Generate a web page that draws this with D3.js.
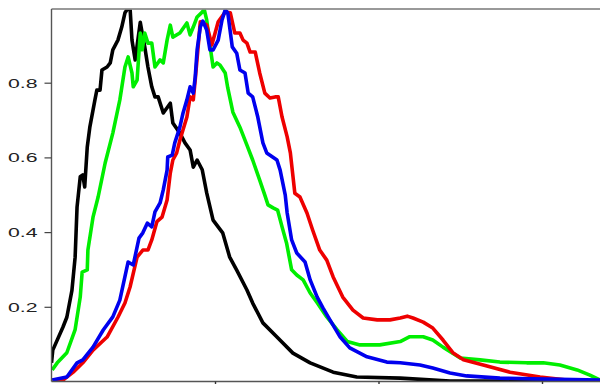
<!DOCTYPE html>
<html><head><meta charset="utf-8">
<script src="https://cdn.jsdelivr.net/npm/d3@7"></script>
<style>html,body{margin:0;padding:0;background:#fff;overflow:hidden}</style>
</head><body>
<svg id="chart" width="600" height="384"></svg>
<script>
// channel (x) and normalized count (y) for each histogram
const blackX = [0,2,18,24,32,37,40,45,49,52,56,60,68,71,76,79,87,92,96,104,110,115,120,123,126,131,139,142,146,151,157,162,167,175,186,190,201,209,217,222,228,236,243,253,268,279,290,306,315,331,353,378,405,441,478,546,624,859];
const blackY = [0.050,0.084,0.146,0.172,0.244,0.333,0.467,0.548,0.553,0.521,0.628,0.681,0.754,0.780,0.780,0.834,0.842,0.853,0.888,0.914,0.949,0.987,1.0,1.0,0.914,0.861,0.962,0.933,0.896,0.842,0.789,0.762,0.762,0.719,0.745,0.692,0.665,0.639,0.620,0.574,0.593,0.567,0.505,0.432,0.398,0.333,0.298,0.245,0.210,0.157,0.119,0.076,0.050,0.025,0.012,0.009,0.001,0.001];

const greenX = [1,9,24,37,45,48,56,57,65,73,84,96,107,115,120,126,128,134,139,142,146,151,157,162,170,175,181,186,190,201,212,217,222,228,236,239,243,248,253,259,264,272,276,284,295,306,315,326,334,339,347,354,361,368,376,384,394,405,416,431,447,463,483,514,546,561,582,597,613,640,671,702,744,770,796,823,843,859];
const greenY = [0.031,0.050,0.077,0.139,0.226,0.293,0.299,0.352,0.440,0.494,0.585,0.665,0.754,0.842,0.869,0.826,0.789,0.807,0.933,0.888,0.933,0.906,0.906,0.842,0.861,0.853,0.914,0.954,0.922,0.933,0.960,0.928,0.949,0.976,0.989,0.997,0.968,0.901,0.842,0.853,0.847,0.826,0.786,0.721,0.681,0.633,0.593,0.539,0.499,0.473,0.465,0.459,0.414,0.371,0.299,0.285,0.272,0.237,0.211,0.173,0.139,0.107,0.098,0.098,0.107,0.120,0.120,0.111,0.092,0.063,0.058,0.052,0.050,0.050,0.044,0.031,0.017,0.004];

const redX = [2,18,34,49,65,87,104,115,123,134,143,151,157,165,173,181,186,190,196,201,212,217,222,225,233,243,251,261,272,280,287,295,300,306,311,319,326,334,342,350,355,361,369,374,381,389,400,409,420,431,441,456,472,488,510,530,546,557,566,582,597,613,629,645,676,718,765,807,859];
const redY = [0.0,0.004,0.025,0.050,0.084,0.119,0.172,0.210,0.253,0.333,0.352,0.352,0.379,0.428,0.440,0.486,0.558,0.593,0.612,0.646,0.708,0.762,0.754,0.807,0.963,0.955,0.901,0.963,0.989,0.987,0.933,0.933,0.914,0.906,0.882,0.882,0.826,0.772,0.759,0.762,0.762,0.708,0.655,0.612,0.504,0.494,0.451,0.405,0.352,0.325,0.280,0.226,0.191,0.170,0.165,0.165,0.170,0.175,0.170,0.159,0.143,0.111,0.076,0.058,0.044,0.025,0.012,0.004,0.001];

const blueX = [1,24,40,49,65,81,96,107,120,128,137,143,150,157,162,170,175,181,182,189,193,201,206,212,217,222,225,228,233,237,243,248,253,261,267,272,276,283,290,295,303,308,315,323,331,337,353,358,366,369,376,384,397,405,416,425,436,452,467,494,525,546,577,597,624,650,702,754,859];
const blueY = [0.004,0.012,0.050,0.058,0.092,0.138,0.173,0.218,0.320,0.312,0.384,0.398,0.424,0.414,0.454,0.478,0.513,0.566,0.601,0.606,0.639,0.681,0.719,0.754,0.789,0.772,0.815,0.888,0.949,0.965,0.941,0.888,0.888,0.914,0.968,0.995,0.987,0.896,0.879,0.834,0.826,0.772,0.762,0.708,0.639,0.612,0.593,0.566,0.499,0.451,0.379,0.344,0.320,0.272,0.226,0.197,0.165,0.119,0.090,0.066,0.052,0.050,0.044,0.036,0.023,0.015,0.009,0.007,0.004];

const seriesColors = ["#000000", "#00ee00", "#ee0000", "#0000ee"];
const xTicks = [256, 512, 768];
const yTicks = [0.2, 0.4, 0.6, 0.8];

const svg = d3.select("#chart");
const mLeft = 51.5, mTop = 8, mBottom = 381.5;
const x = d3.scaleLinear().domain([0, 1024]).range([mLeft, mLeft + 1024 * 163.5 / 256]);
const y = d3.scaleLinear().domain([0, 1]).range([mBottom, mTop]);

svg.append("defs").append("clipPath").attr("id", "clip")
  .append("rect").attr("x", mLeft).attr("y", 9.5).attr("width", 600).attr("height", mBottom - 9.5);

const series = [
  {xs: blackX, ys: blackY, c: seriesColors[0]},
  {xs: greenX, ys: greenY, c: seriesColors[1]},
  {xs: redX, ys: redY, c: seriesColors[2]},
  {xs: blueX, ys: blueY, c: seriesColors[3]}
];
const line = d3.line().x(d => x(d[0])).y(d => y(d[1]));
const g = svg.append("g").attr("clip-path", "url(#clip)");
series.forEach(s => {
  g.append("path").datum(s.xs.map((v, i) => [v, s.ys[i]]))
    .attr("d", line).attr("fill", "none").attr("stroke", s.c)
    .attr("stroke-width", 3.6).attr("stroke-linejoin", "round");
});

// frame
svg.append("line").attr("x1", mLeft).attr("x2", 600).attr("y1", 9).attr("y2", 9)
  .attr("stroke", "#777").attr("stroke-width", 1.6);

// axes
const yAxis = svg.append("g").attr("transform", `translate(${mLeft},0)`)
  .call(d3.axisLeft(y).tickValues(yTicks).tickSize(7).tickFormat(d3.format(".1f")));
yAxis.select(".domain").attr("d", `M0,9V${mBottom}`).attr("stroke", "#555").attr("stroke-width", 1.4);
yAxis.selectAll(".tick line").attr("stroke", "#444").attr("stroke-width", 1.2);
yAxis.selectAll(".tick text").each(function() {
  const t = d3.select(this);
  t.attr("x", null).attr("dy", null)
   .attr("transform", "translate(-14,4.5) scale(1.7,1)")
   .attr("font-family", "Liberation Sans, Arial, sans-serif")
   .attr("font-size", 12.5).attr("fill", "#222").attr("text-anchor", "end");
});

const xAxis = svg.append("g").attr("transform", `translate(0,${mBottom})`)
  .call(d3.axisBottom(x).tickValues(xTicks).tickSize(5).tickFormat(""));
xAxis.select(".domain").attr("d", `M${mLeft},0H600`).attr("stroke", "#555").attr("stroke-width", 1.4);
xAxis.selectAll(".tick line").attr("stroke", "#333").attr("stroke-width", 1.4);
</script>
</body></html>
